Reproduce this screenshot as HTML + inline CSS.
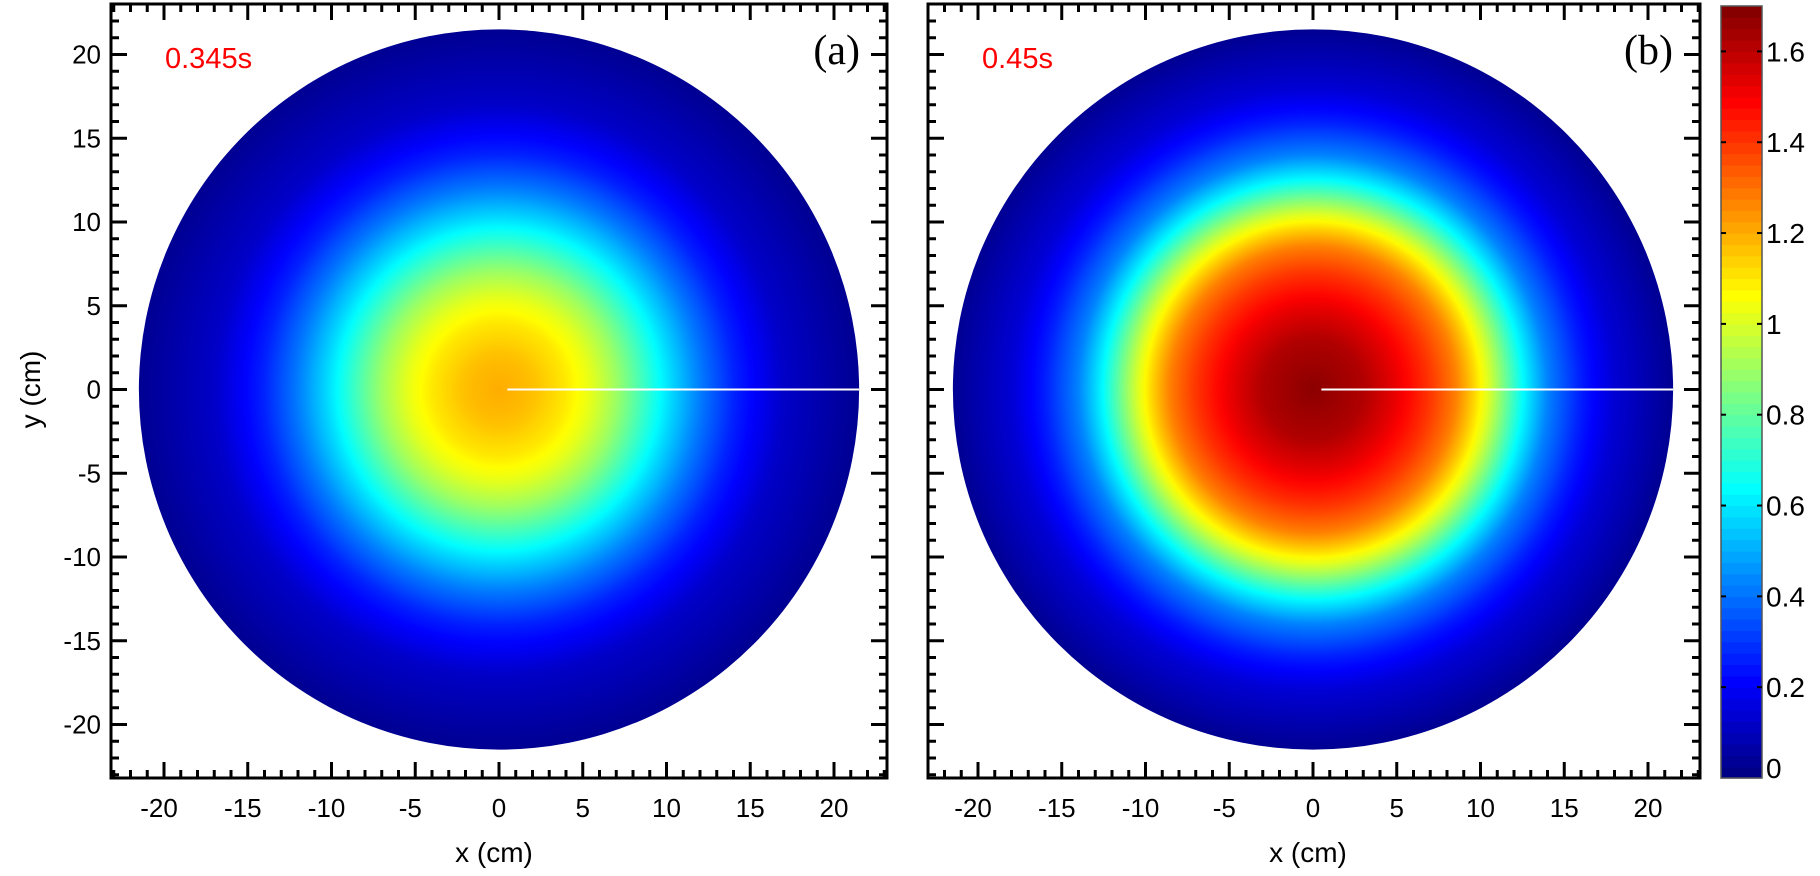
<!DOCTYPE html>
<html><head><meta charset="utf-8"><style>
body{margin:0;background:#fff;}
svg{display:block;font-family:"Liberation Sans",Arial,sans-serif;}
</style></head><body>
<svg id="fig" width="1820" height="876" viewBox="0 0 1820 876"></svg>
<script>
const radiiA=[0,2,4,5.5,7,8.5,10,12,14,17,21.5];
const valuesA=[1.2,1.17,1.1,1.02,0.9,0.75,0.6,0.42,0.27,0.12,0.03];
const radiiB=[0,3,5,7,8.5,9.5,10.5,11.5,12.5,14,16,18,21.5];
const valuesB=[1.68,1.62,1.52,1.4,1.28,1.15,1.0,0.82,0.64,0.43,0.26,0.14,0.03];
const xTicks=[-20,-15,-10,-5,0,5,10,15,20];
const yTicks=[20,15,10,5,0,-5,-10,-15,-20];
const cbTicks=[0,0.2,0.4,0.6,0.8,1,1.2,1.4,1.6];
const cbMax=1.7;
const times=["0.345s","0.45s"];
const panelLabels=["(a)","(b)"];

const NS="http://www.w3.org/2000/svg";
const svg=document.getElementById('fig');
function mk(tag,attrs,parent){const e=document.createElementNS(NS,tag);for(const k in attrs)e.setAttribute(k,attrs[k]);(parent||svg).appendChild(e);return e;}
function jet(v){let t=Math.max(0,Math.min(1,v/cbMax));
 const r=Math.max(0,Math.min(1,Math.min(4*t-1.5,-4*t+4.5)));
 const g=Math.max(0,Math.min(1,Math.min(4*t-0.5,-4*t+3.5)));
 const b=Math.max(0,Math.min(1,Math.min(4*t+0.5,-4*t+2.5)));
 return `rgb(${Math.round(r*255)},${Math.round(g*255)},${Math.round(b*255)})`;}
function interp(rs,vs,r){for(let i=1;i<rs.length;i++){if(r<=rs[i]){const f=(r-rs[i-1])/(rs[i]-rs[i-1]);return vs[i-1]+f*(vs[i]-vs[i-1]);}}return vs[vs.length-1];}
const defs=mk('defs',{});
const frameTop=4,frameBot=778,pxPerCm=16.75,yCenter=389.5;
const panels=[{l:111,r:887,cx:499,rs:radiiA,vs:valuesA},{l:928,r:1700,cx:1313,rs:radiiB,vs:valuesB}];
const yS=v=>yCenter-v*pxPerCm;
panels.forEach((p,pi)=>{
 const xS=v=>p.cx+v*pxPerCm;
 const g=mk('g',{});
 
 
 const R=21.5;
 const grad=mk('radialGradient',{id:'gr'+pi,cx:xS(0),cy:yS(0),r:R*pxPerCm,gradientUnits:'userSpaceOnUse'},defs);
 const rmax=p.rs[p.rs.length-1];
 for(let i=0;i<=60;i++){const rr=rmax*i/60;mk('stop',{offset:(rr/R).toFixed(4),'stop-color':jet(interp(p.rs,p.vs,rr))},grad);}
 const disc=mk('circle',{cx:xS(0),cy:yS(0),r:R*pxPerCm,fill:'url(#gr'+pi+')'},g);
 
 
 const ln=mk('line',{x1:xS(0.5),y1:yS(0),x2:xS(21.5),y2:yS(0),stroke:'#fff','stroke-width':2},g);
 
 
 mk('rect',{x:p.l,y:frameTop,width:p.r-p.l,height:frameBot-frameTop,fill:'none',stroke:'#000','stroke-width':3},g);
 for(let v=-23;v<=23;v++){const x=xS(v);if(x<=p.l+1||x>=p.r-1)continue;const L=v%5===0?16:8;
  mk('line',{x1:x,y1:frameBot,x2:x,y2:frameBot-L,stroke:'#000','stroke-width':3},g);
  mk('line',{x1:x,y1:frameTop,x2:x,y2:frameTop+L,stroke:'#000','stroke-width':3},g);}
 for(let v=-23;v<=23;v++){const y=yS(v);if(y<=frameTop+1||y>=frameBot-1)continue;const L=v%5===0?16:8;
  mk('line',{x1:p.l,y1:y,x2:p.l+L,y2:y,stroke:'#000','stroke-width':3},g);
  mk('line',{x1:p.r,y1:y,x2:p.r-L,y2:y,stroke:'#000','stroke-width':3},g);}
 xTicks.forEach(v=>{const t=mk('text',{x:xS(v)-(v<0?5:0),y:817,'font-size':26,'text-anchor':'middle'},g);t.textContent=v;
  
  });
 const xt=mk('text',{x:xS(0)-5,y:862,'font-size':28,'text-anchor':'middle'},g);xt.textContent='x (cm)';
 
 
 const tl=mk('text',{x:p.l+54,y:68,'font-size':29,fill:'#f00'},g);tl.textContent=times[pi];
 
 
 const pl=mk('text',{x:p.r-27,y:64,'font-size':42,'text-anchor':'end','font-family':'Liberation Serif, serif'},g);pl.textContent=panelLabels[pi];
 
 
 if(pi===0){yTicks.forEach(v=>{const t=mk('text',{x:101,y:yS(v)+9,'font-size':26,'text-anchor':'end'},g);t.textContent=v;
  
  });
  const yt=mk('text',{x:40,y:yCenter,'font-size':28,'text-anchor':'middle',transform:`rotate(-90 40 ${yCenter})`},g);yt.textContent='y (cm)';
  
  }
});
// colorbar
const cb=mk('g',{});


const cbL=1721,cbR=1762,cbT=6,cbB=778;
const cbY=v=>cbB-v/cbMax*(cbB-cbT);
const N=68;
for(let i=0;i<N;i++){const v0=cbMax*i/N,v1=cbMax*(i+1)/N;mk('rect',{x:cbL,y:cbY(v1),width:cbR-cbL,height:cbY(v0)-cbY(v1)+0.6,fill:jet((v0+v1)/2)},cb);}
mk('rect',{x:cbL,y:cbT,width:cbR-cbL,height:cbB-cbT,fill:'none',stroke:'#555','stroke-width':1.5},cb);
cbTicks.forEach(v=>{const y=cbY(v);if(v>0){mk('line',{x1:cbL,y1:y,x2:cbL+5,y2:y,stroke:'#000','stroke-width':2},cb);mk('line',{x1:cbR,y1:y,x2:cbR-5,y2:y,stroke:'#000','stroke-width':2},cb);}
 const t=mk('text',{x:1766,y:y+(v===0?0:10),'font-size':28},cb);t.textContent=v;
 
 });
</script>
</body></html>
